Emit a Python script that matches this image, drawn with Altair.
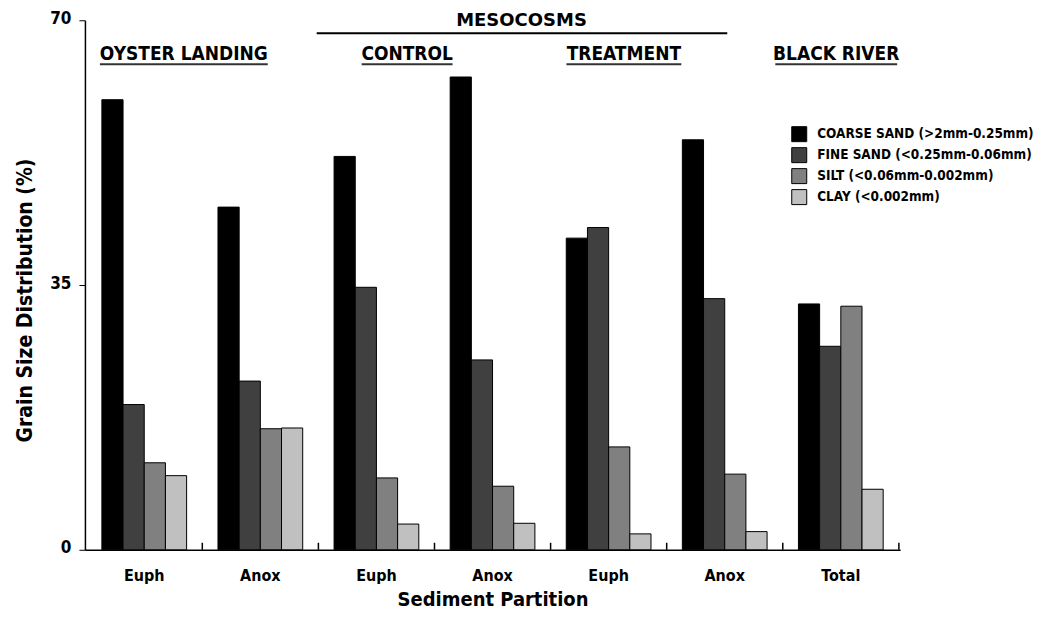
import altair as alt
import pandas as pd

FONT = "DejaVu Sans Condensed, DejaVu Sans, sans-serif"
FONT_WIDE = "DejaVu Sans, sans-serif"

groups = ["OL_Euph", "OL_Anox", "C_Euph", "C_Anox", "T_Euph", "T_Anox", "BR_Total"]
fractions = [
    "COARSE SAND (>2mm-0.25mm)",
    "FINE SAND (<0.25mm-0.06mm)",
    "SILT (<0.06mm-0.002mm)",
    "CLAY (<0.002mm)",
]
colors = ["#000000", "#404040", "#808080", "#c0c0c0"]

coarse = [59.5, 45.3, 52.0, 62.5, 41.2, 54.2, 32.5]
fine = [19.2, 22.3, 34.7, 25.1, 42.6, 33.2, 26.9]
silt = [11.5, 16.0, 9.5, 8.4, 13.6, 10.0, 32.2]
clay = [9.8, 16.1, 3.4, 3.5, 2.1, 2.4, 8.0]

rows = []
for i, g in enumerate(groups):
    for f, vals in zip(fractions, [coarse, fine, silt, clay]):
        rows.append({"group": g, "fraction": f, "value": vals[i]})
df = pd.DataFrame(rows)

xscale = alt.Scale(domain=groups, paddingInner=0.27, paddingOuter=0.146)
yscale = alt.Scale(domain=[0, 70], nice=False)

xaxis = alt.Axis(
    title="Sediment Partition",
    labelExpr="datum.value == 'BR_Total' ? 'Total' : (indexof(datum.value, 'Euph') >= 0 ? 'Euph' : 'Anox')",
    ticks=False, labelAngle=0, labelPadding=18, labelFontSize=16,
    labelFont=FONT, labelFontWeight="bold", labelColor="black",
    titleFont=FONT, titleFontSize=20, titleFontWeight="bold",
    titleColor="black", titlePadding=6, domainColor="black", domainWidth=1.5,
)
yaxis = alt.Axis(
    values=[0, 35, 70], grid=False, title="Grain Size Distribution (%)",
    tickSize=6, tickColor="black", domainColor="black", domainWidth=1.5,
    labelFont=FONT, labelFontSize=17, labelFontWeight="bold", labelColor="black",
    labelPadding=8, labelOffset=-2,
    titleFont=FONT, titleFontSize=21, titleFontWeight="bold", titleColor="black",
    titlePadding=14, titleY=280,
)

bars = alt.Chart(df).mark_bar(stroke="black", strokeWidth=1).encode(
    x=alt.X("group:N", sort=groups, scale=xscale, axis=xaxis),
    xOffset=alt.XOffset("fraction:N", sort=fractions, scale=alt.Scale(domain=fractions)),
    y=alt.Y("value:Q", scale=yscale, axis=yaxis),
    color=alt.Color(
        "fraction:N", sort=fractions, scale=alt.Scale(domain=fractions, range=colors),
        legend=alt.Legend(
            title=None, orient="none", legendX=707, legendY=106,
            symbolType="square", symbolSize=225, symbolStrokeColor="black",
            symbolStrokeWidth=1, symbolOpacity=1, labelFont=FONT, labelFontSize=13.5,
            labelFontWeight="bold", labelColor="black", labelOffset=10, rowPadding=1,
            labelLimit=400,
        ),
    ),
)

tick_df = pd.DataFrame({"group": groups})
ticks = alt.Chart(tick_df).mark_rule(color="black", strokeWidth=1.5, xOffset=15.7).encode(
    x=alt.X("group:N", sort=groups, scale=xscale, axis=xaxis, bandPosition=1),
    y=alt.value(523),
    y2=alt.value(530),
)

header_text = ["OYSTER LANDING", "CONTROL", "TREATMENT", "BLACK RIVER"]
header_group = ["OL_Euph", "C_Euph", "T_Euph", "BR_Total"]
header_pos = [0.967, 0.862, 0.68, 0.446]
underline_w = [168, 91, 115, 122]

layers = [bars, ticks]
for t, g, p, w in zip(header_text, header_group, header_pos, underline_w):
    hd = pd.DataFrame({"group": [g], "text": [t]})
    layers.append(
        alt.Chart(hd).mark_text(font=FONT, fontSize=19, fontWeight="bold",
                                color="black", baseline="middle").encode(
            x=alt.X("group:N", sort=groups, scale=xscale, axis=xaxis, bandPosition=p),
            y=alt.datum(65.6),
            text="text:N",
        )
    )
    layers.append(
        alt.Chart(hd).mark_rule(color="#333333", strokeWidth=2,
                                xOffset=-w / 2, x2Offset=w / 2).encode(
            x=alt.X("group:N", sort=groups, scale=xscale, axis=xaxis, bandPosition=p),
            x2=alt.X2("group:N", bandPosition=p),
            y=alt.datum(64.2),
        )
    )

meso = pd.DataFrame({"group": ["C_Anox"], "g1": ["C_Euph"], "g2": ["T_Anox"], "text": ["MESOCOSMS"]})
layers.append(
    alt.Chart(meso).mark_text(font=FONT_WIDE, fontSize=18, fontWeight="bold",
                              color="black", baseline="middle").encode(
        x=alt.X("group:N", sort=groups, scale=xscale, axis=xaxis, bandPosition=0.842),
        y=alt.datum(69.87),
        text="text:N",
    )
)
layers.append(
    alt.Chart(meso).mark_rule(color="black", strokeWidth=2, xOffset=-17.4).encode(
        x=alt.X("g1:N", sort=groups, scale=xscale, axis=xaxis, bandPosition=0),
        x2=alt.X2("g2:N", bandPosition=0.53),
        y=alt.datum(68.3),
    )
)

chart = alt.layer(*layers).properties(
    width=816, height=530,
    autosize=alt.AutoSizeParams(type="none"),
    padding={"left": 77, "top": 12, "right": 142, "bottom": 64},
    background="white",
).configure_view(stroke=None)

chart.save("out.html", embed_options={"renderer": "svg", "actions": False})
